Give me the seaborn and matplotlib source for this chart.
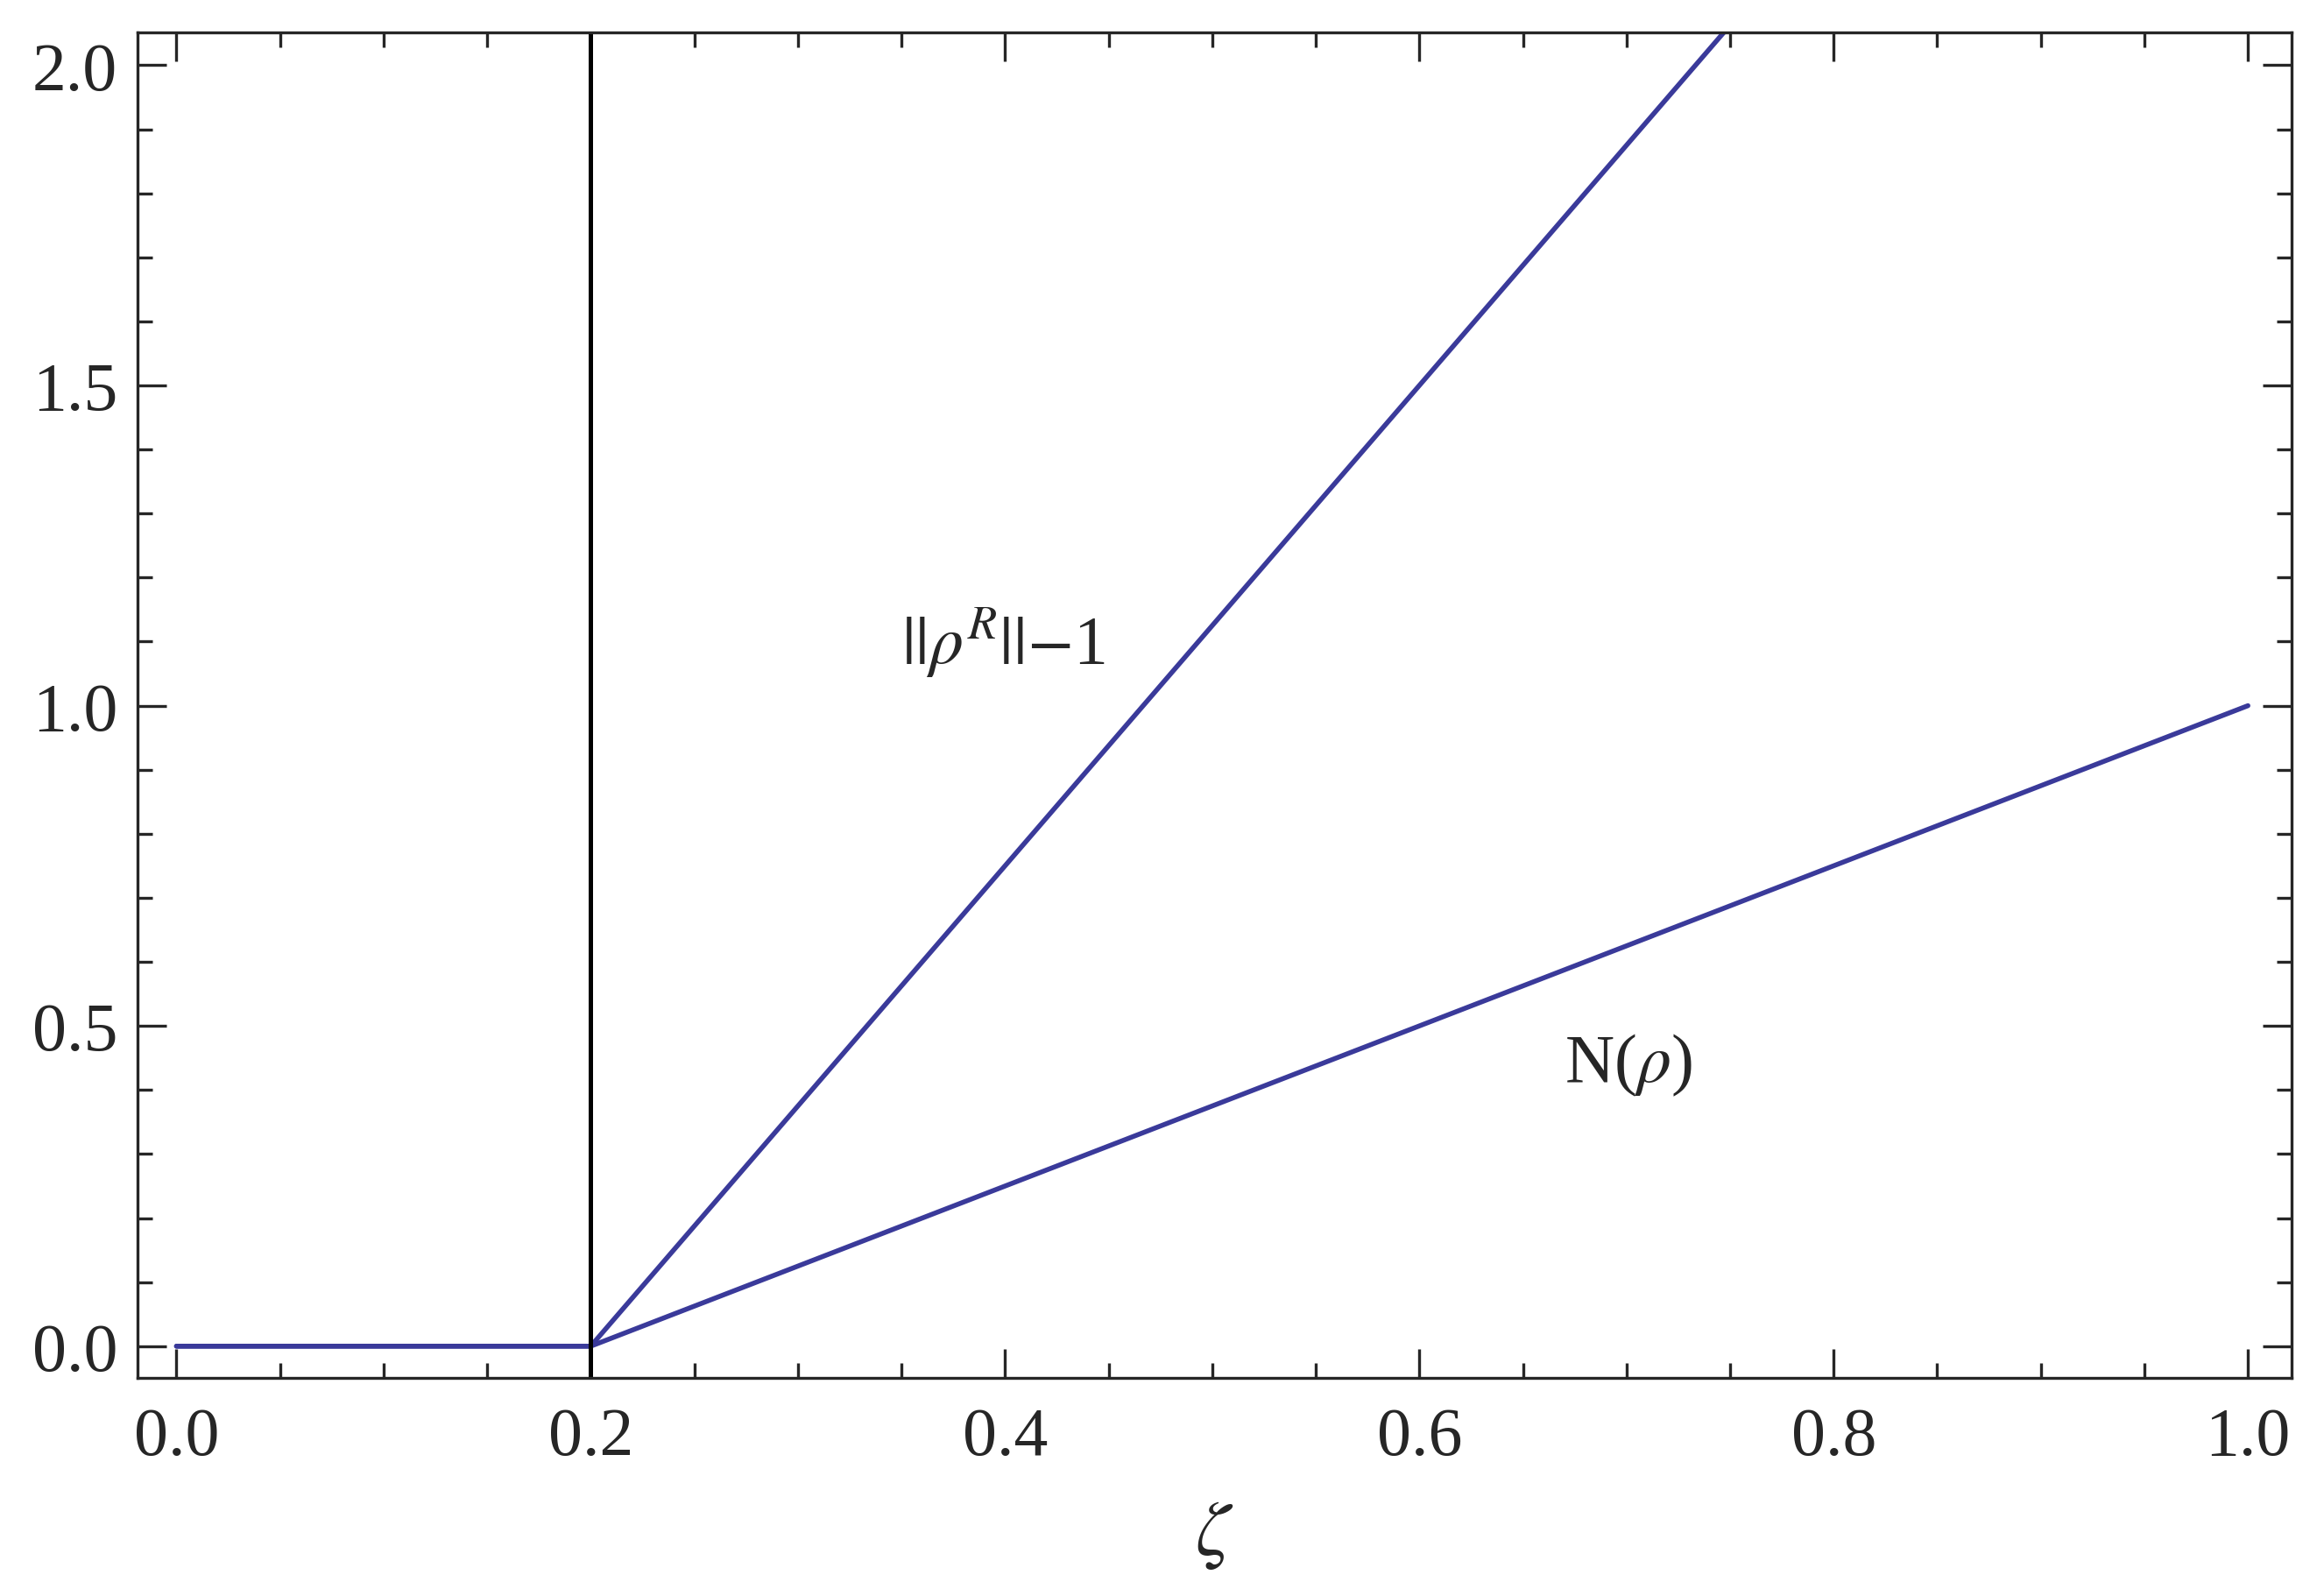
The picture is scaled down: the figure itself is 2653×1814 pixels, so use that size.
import matplotlib
matplotlib.use("Agg")
import matplotlib.pyplot as plt
import seaborn as sns
import pandas as pd
from matplotlib.ticker import MultipleLocator

zeta_N = [0.0, 0.2, 1.0]
val_N = [0.0, 0.0, 1.0]
zeta_R = [0.0, 0.2, 0.76]
val_R = [0.0, 0.0, 2.1]
zeta_c = 0.2

sns.set_style("ticks")
plt.rcParams['font.family'] = ['Liberation Serif', 'DejaVu Serif']
plt.rcParams['mathtext.fontset'] = 'stix'

fig = plt.figure(figsize=(13.265, 9.075), dpi=200)
ax = fig.add_axes([0.059, 0.133, 0.927, 0.846])
col = '#3a3a9a'
sns.lineplot(data=pd.DataFrame({'x': zeta_R, 'y': val_R}), x='x', y='y', ax=ax, color=col, lw=2)
sns.lineplot(data=pd.DataFrame({'x': zeta_N, 'y': val_N}), x='x', y='y', ax=ax, color=col, lw=2)
ax.axvline(zeta_c, color='black', lw=1.8)
ax.set_xlim(-0.019, 1.021)
ax.set_ylim(-0.049, 2.051)
ax.xaxis.set_major_locator(MultipleLocator(0.2))
ax.xaxis.set_minor_locator(MultipleLocator(0.05))
ax.yaxis.set_major_locator(MultipleLocator(0.5))
ax.yaxis.set_minor_locator(MultipleLocator(0.1))
ax.tick_params(which='both', direction='in', top=True, right=True, labelsize=28, width=1.2)
ax.tick_params(which='major', length=12)
ax.tick_params(which='minor', length=6)
ax.tick_params(axis='x', pad=12)
ax.tick_params(axis='y', pad=8)
ax.xaxis.set_major_formatter(matplotlib.ticker.FormatStrFormatter('%.1f'))
ax.yaxis.set_major_formatter(matplotlib.ticker.FormatStrFormatter('%.1f'))
for s in ax.spines.values():
    s.set_linewidth(1.2)
ax.set_xlabel(r'$\zeta$', fontsize=32, labelpad=12)
ax.set_ylabel('')
ax.text(0.35, 1.1, r'$||\rho^R||$$-$1', fontsize=28, va='center', ha='left')
ax.text(0.67, 0.44, r'N($\rho$)', fontsize=28, va='center', ha='left')
fig.savefig('out.png', dpi=200)
